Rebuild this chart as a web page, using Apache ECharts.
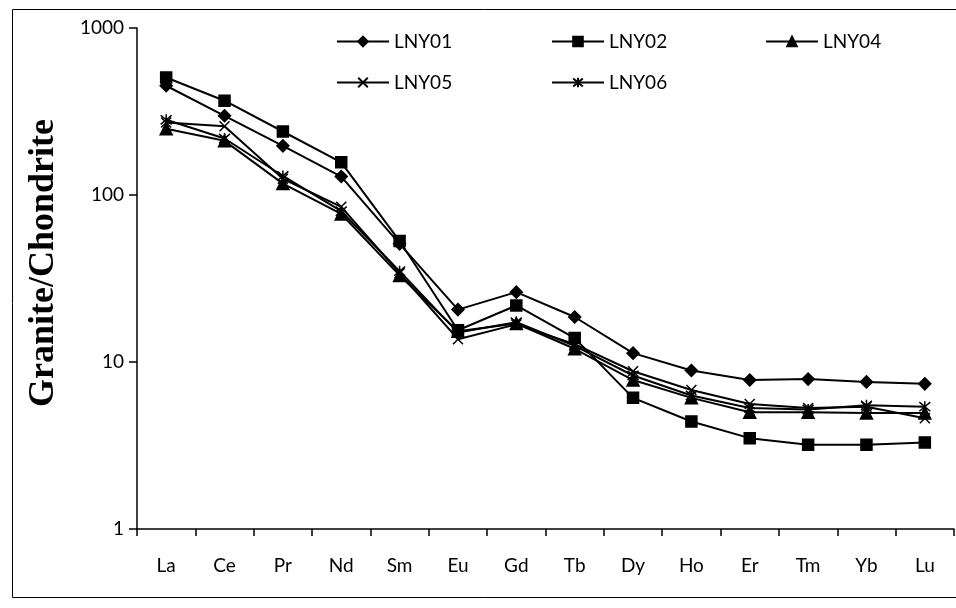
<!DOCTYPE html>
<html>
<head>
<meta charset="utf-8">
<title>REE pattern</title>
<script src="https://cdn.jsdelivr.net/npm/echarts@6/dist/echarts.min.js"></script>
<style>
  html, body { margin: 0; padding: 0; background: #fff; }
  #main { width: 956px; height: 608px; }
</style>
</head>
<body>
<div id="main"></div>
<script>
// 稀土元素
var elements = ['La', 'Ce', 'Pr', 'Nd', 'Sm', 'Eu', 'Gd', 'Tb', 'Dy', 'Ho', 'Er', 'Tm', 'Yb', 'Lu'];
var yTicks = [1, 10, 100, 1000];

var LNY01 = [451, 298, 197, 129, 51, 20.6, 26.2, 18.6, 11.3, 8.9, 7.8, 7.9, 7.6, 7.4];
var LNY02 = [505, 367, 240, 157, 53, 15.5, 21.8, 13.9, 6.1, 4.4, 3.5, 3.2, 3.2, 3.3];
var LNY04 = [249, 211, 117, 77, 33, 15.3, 17.0, 12.0, 7.8, 6.1, 5.0, 5.0, 4.95, 4.95];
var LNY05 = [272, 258, 125, 85, 34, 13.7, 16.8, 12.8, 8.8, 6.8, 5.6, 5.3, 5.4, 4.6];
var LNY06 = [282, 218, 130, 80, 35, 15.0, 17.3, 12.5, 8.3, 6.3, 5.3, 5.2, 5.5, 5.4];

var crossPath = 'path://M0,0L10,10M10,0L0,10';
var starPath = 'path://M0,0L10,10M10,0L0,10M5,-1L5,11';

function makeSeries(name, data, symbol, size) {
  return {
    name: name,
    type: 'line',
    data: data,
    symbol: symbol,
    symbolSize: size,
    showAllSymbol: true,
    lineStyle: { color: '#000', width: 2 },
    itemStyle: { color: '#000', borderColor: '#000', borderWidth: 1.5 },
    emphasis: { disabled: true },
    z: 3
  };
}

// 图例按列摆放
function makeLegend(names, left) {
  return {
    data: names,
    orient: 'vertical',
    left: left,
    top: 27,
    itemWidth: 52,
    itemHeight: 12,
    itemGap: 22,
    textStyle: { color: '#000', fontSize: 19, fontFamily: 'Lato' }
  };
}

var option = {
  animation: false,
  backgroundColor: '#fff',
  textStyle: { fontFamily: 'Lato' },
  graphic: [
    {
      type: 'rect',
      shape: { x: 12.5, y: 9.5, width: 1000, height: 588 },
      style: { fill: 'none', stroke: '#000', lineWidth: 1 },
      silent: true
    },
    {
      type: 'text',
      x: 44,
      y: 263,
      rotation: Math.PI / 2,
      style: {
        text: 'Granite/Chondrite',
        fill: '#000',
        font: 'bold 36px "Liberation Serif"',
        textAlign: 'center',
        textVerticalAlign: 'middle'
      },
      silent: true
    }
  ],
  legend: [
    makeLegend(['LNY01', 'LNY05'], 331),
    makeLegend(['LNY02', 'LNY06'], 546),
    makeLegend(['LNY04'], 760)
  ],
  grid: {
    left: 137,
    right: 2,
    top: 28,
    bottom: 79
  },
  xAxis: {
    type: 'category',
    data: elements,
    boundaryGap: true,
    axisLine: { lineStyle: { color: '#000', width: 1.5 } },
    axisTick: { show: true, length: 7, alignWithLabel: false, lineStyle: { color: '#000', width: 1.5 } },
    axisLabel: { color: '#000', fontSize: 19, margin: 27, fontFamily: 'Lato' },
    splitLine: { show: false }
  },
  yAxis: {
    type: 'log',
    logBase: 10,
    min: yTicks[0],
    max: yTicks[yTicks.length - 1],
    axisLine: { show: true, lineStyle: { color: '#000', width: 1.5 } },
    axisTick: { show: true, length: 8, lineStyle: { color: '#000', width: 1.5 } },
    minorTick: { show: false },
    axisLabel: {
      color: '#000',
      fontSize: 19,
      margin: 13,
      fontFamily: 'Lato',
      formatter: function (v) { return String(Math.round(v)); }
    },
    splitLine: { show: false }
  },
  series: [
    makeSeries('LNY01', LNY01, 'diamond', 12),
    makeSeries('LNY02', LNY02, 'rect', 11),
    makeSeries('LNY04', LNY04, 'triangle', 12),
    makeSeries('LNY05', LNY05, crossPath, 10),
    makeSeries('LNY06', LNY06, starPath, 11)
  ]
};

var chart = echarts.init(document.getElementById('main'));
chart.setOption(option);
</script>
</body>
</html>
